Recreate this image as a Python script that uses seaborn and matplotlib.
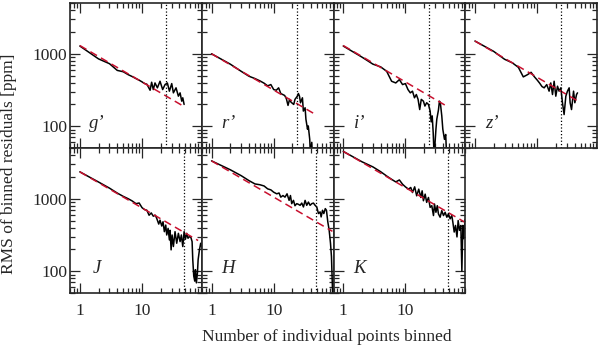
# RMS of binned residuals vs bin size, one panel per band

import matplotlib
matplotlib.use("Agg")
import matplotlib.pyplot as plt
import matplotlib.ticker as mticker
import seaborn as sns

# band names
bands = ["g’", "r’", "i’", "z’", "J", "H", "K"]

# binned RMS curves [ppm]
g_x = [1, 2, 3, 4, 5, 6, 7, 8, 9, 10, 11, 12, 13.5, 14.3, 15.2, 16.2, 17.7, 19.5, 21.5, 23.5,
       25.6, 27.6, 30.1, 32, 35.3, 38.5, 41, 43.6, 45.3, 47.6]
g_y = [1280, 850, 730, 590, 565, 515, 484, 455, 432, 410, 389, 380, 314, 405, 321, 396, 339, 418, 321, 376,
       396, 305, 388, 289, 339, 260, 289, 222, 247, 200]

r_x = [1, 2, 3, 4, 5, 6, 7, 8, 9, 10, 11, 12, 13, 15, 16, 17, 18, 19, 21, 22,
       24, 25, 26, 27, 29, 30, 32, 33, 35, 36, 38, 39, 41, 42]
r_y = [1000, 720, 573, 490, 455, 423, 393, 361, 376, 321, 314, 339, 283, 266, 240, 194, 235, 215, 200, 235,
       260, 283, 260, 211, 247, 162, 180, 125, 91, 101, 66, 40, 60, 35]

i_x = [1, 2, 3, 4, 5, 6, 7, 8, 9, 10, 11, 12, 13, 14, 15, 16, 17, 18, 19.5, 20.6,
       22, 23.5, 25, 26, 27, 28, 29, 31, 32, 34, 35.3, 36.5, 38.5, 40, 42.5, 44.5, 46]
i_y = [1280, 900, 720, 660, 573, 418, 396, 440, 376, 388, 321, 289, 305, 247, 274, 235, 170, 235, 222, 190,
       211, 200, 162, 115, 139, 82, 38, 91, 125, 167, 222, 211, 139, 91, 66, 77, 40]

z_x = [1, 2, 3, 4, 5, 6, 7, 8, 9, 10, 11, 12, 13, 14.3, 15.6, 16.6, 17.7, 18.8, 20, 21.3,
       22.6, 24.1, 25.6, 27.2, 29, 30.8, 32.8, 34, 35.8, 38.6, 40.5, 43.1, 44.7]
z_y = [1500, 1080, 840, 750, 650, 480, 515, 555, 484, 436, 393, 353, 339, 376, 305, 396, 274, 418, 260, 357,
       305, 339, 211, 145, 260, 305, 339, 211, 170, 305, 211, 274, 289]

j_x = [1, 2, 3, 4, 5, 6, 7, 8, 9, 10, 11, 12, 13, 14.1, 15.2, 16.4, 17.3, 18.6, 19.5, 20.8,
       21.8, 22.9, 24.1, 25, 26.3, 27.6, 28.3, 29.4, 30.5, 32, 34, 36.2, 38.5, 41, 43, 45.3,
       47.6, 50, 52.5, 55, 58, 61, 64, 65.6, 68, 70.6, 72.4, 75, 78, 80, 84, 88, 91]
j_y = [2350, 1700, 1400, 1197, 1077, 1000, 929, 855, 873, 754, 708, 693, 592, 637, 574, 592, 533, 447, 506, 420,
       481, 351, 433, 316, 390, 270, 367, 197, 316, 219, 351, 243, 333, 256, 316, 219,
       351, 276, 333, 285, 300, 295, 256, 144, 86, 73, 105, 69, 95, 144, 197, 243, 219]

h_x = [1, 2, 3, 4, 5, 6, 7, 8, 9, 10, 11.2, 12.2, 13, 14.1, 15.2, 16.4, 17.7, 18.6, 19.5, 20.8,
       22, 23.5, 25, 26.6, 28.3, 30.1, 32, 34, 36.2, 38.5, 41, 43.6, 46.4, 49.3, 52.5, 55.8,
       58, 61, 64, 67.6, 70.6, 74.2, 78, 82, 85, 89]
h_y = [3330, 2512, 2080, 1778, 1600, 1560, 1500, 1368, 1325, 1231, 1169, 1200, 1052, 1107, 1052, 1169, 949, 1107, 855, 949,
       801, 855, 837, 811, 871, 770, 949, 811, 899, 811, 855, 871, 811, 770, 624, 658,
       561, 693, 624, 730, 693, 480, 370, 243, 159, 45]

k_x = [1, 2, 3, 4, 5, 6, 7, 8, 9, 10, 11.2, 12.2, 13, 14.1, 15.2, 16.4, 17.7, 18.6, 19.5, 20.8,
       22, 23.5, 25, 26.6, 28.3, 29.4, 31, 32.6, 34, 36.2, 38.5, 41, 43.6, 46.4, 49.3, 52.5,
       55.8, 58, 61, 64, 67.6, 70.6, 74.2, 78, 81, 84, 87, 91]
k_y = [4500, 3236, 2750, 2360, 2057, 1852, 1706, 1816, 1585, 1459, 1355, 1430, 1218, 1459, 1097, 1355, 1041, 1286, 938, 1157,
       891, 1041, 760, 802, 586, 845, 650, 802, 618, 556, 685, 586, 650, 556, 618, 528,
       586, 475, 347, 428, 297, 500, 366, 428, 100, 428, 281, 515]

# white-noise expectation (end points of the dashed lines)
white_x0 = [1, 1, 1, 1, 1, 1, 1]
white_x1 = [46, 46, 46, 44, 80, 88, 92]
white_y0 = [1300, 1000, 1300, 1500, 2350, 3330, 4500]
white_y1 = [190, 147, 190, 226, 265, 355, 470]

# vertical dotted marker per band
mark_x = [24, 24, 24, 24, 48, 48, 48]

curves_x = [g_x, r_x, i_x, z_x, j_x, h_x, k_x]
curves_y = [g_y, r_y, i_y, z_y, j_y, h_y, k_y]

sns.set_style("ticks")
plt.rcParams['font.family'] = ['Liberation Serif', 'DejaVu Serif']

fig, axes = plt.subplots(2, 4, figsize=(6, 3.48), dpi=100, sharex=True, sharey=True)
fig.subplots_adjust(left=0.117, right=0.995, top=0.991, bottom=0.158, wspace=0, hspace=0)
axes[1, 3].remove()

for n in range(7):
    ax = axes.flat[n]
    ax.set_xscale("log")
    ax.set_yscale("log")
    sns.lineplot(x=curves_x[n], y=curves_y[n], ax=ax, color="black", lw=1.1)
    sns.lineplot(x=[white_x0[n], white_x1[n]], y=[white_y0[n], white_y1[n]], ax=ax,
                 color="#c8102e", lw=1.1, linestyle=(0, (5, 3)))
    ax.axvline(mark_x[n], color="black", lw=0.9, linestyle=":")
    ax.text(0.2, 0.17, bands[n], transform=ax.transAxes, fontstyle="italic",
            fontsize=13.5, ha="center", va="center")

    ax.set_xlim(0.7, 92)
    ax.set_ylim(50, 5000)
    ax.xaxis.set_major_formatter(mticker.FuncFormatter(lambda v, p: f"{v:g}"))
    ax.yaxis.set_major_formatter(mticker.FuncFormatter(lambda v, p: f"{v:g}"))
    ax.xaxis.set_minor_formatter(mticker.NullFormatter())
    ax.yaxis.set_minor_formatter(mticker.NullFormatter())
    ax.tick_params(which="both", direction="in", top=True, right=True, width=0.9, labelsize=12.5)
    ax.tick_params(which="major", length=7)
    ax.tick_params(which="minor", length=3.5)
    ax.tick_params(axis="x", pad=7)
    ax.tick_params(axis="y", pad=2)
    for sp in ax.spines.values():
        sp.set_linewidth(1.2)
    ax.set_xlabel("")
    ax.set_ylabel("")

fig.text(0.015, 0.53, "RMS of binned residuals [ppm]", rotation=90, ha="center", va="center", fontsize=12.5)
fig.text(0.545, 0.032, "Number of individual points binned", ha="center", va="center", fontsize=12.5)

plt.savefig("out.png", dpi=100)
